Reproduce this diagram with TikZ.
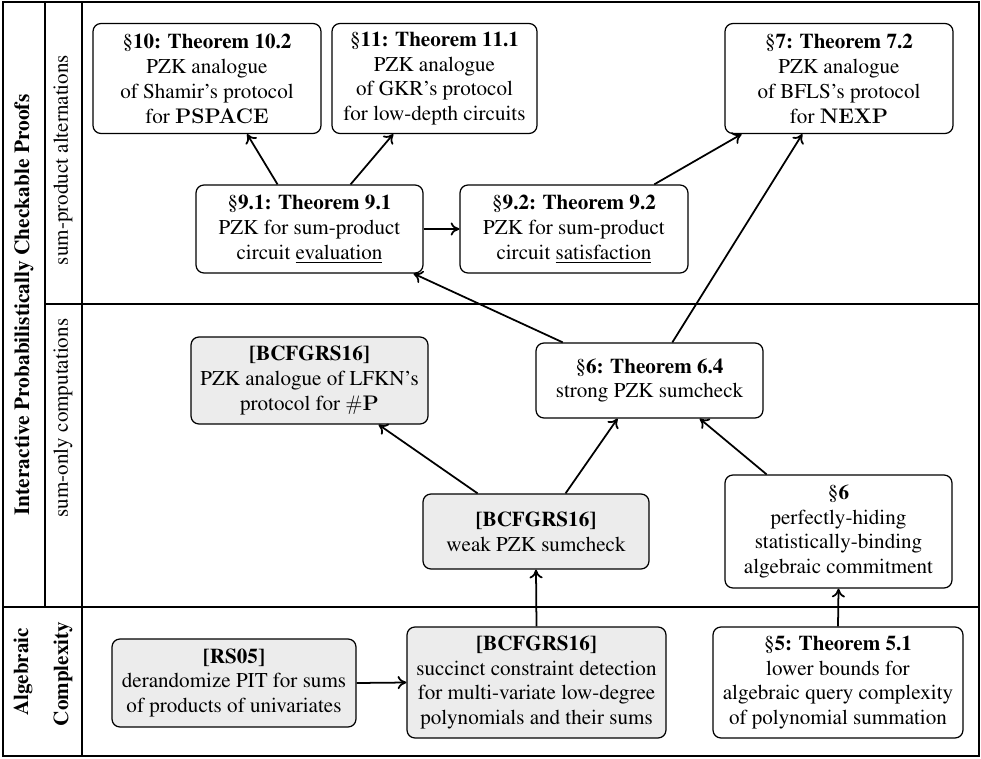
\documentclass[tikz,border=0pt]{standalone}
\usepackage[T1]{fontenc}
\usepackage{times}
\usetikzlibrary{calc,positioning,arrows,arrows.meta}
\tikzstyle{res} = [draw, rounded corners=4.5pt, align=center,
    inner sep=2pt, line width=0.7pt]
\tikzstyle{gres} = [res, fill=gray!15]
\tikzstyle{dep} = [-{To[length=5pt,width=7.5pt]}, line width=1pt]

\begin{document}
\begin{tikzpicture}[x=0.02cm, y=-0.02cm,
    font=\fontsize{12}{14.2}\selectfont]
\useasboundingbox (0,0) rectangle (981,758);

% table lines
\draw[line width=0.8pt] (3,2) rectangle (979,756);
\draw[line width=0.8pt] (45,2) -- (45,607);
\draw[line width=0.8pt] (82,2) -- (82,756);
\draw[line width=0.8pt] (45,304) -- (979,304);
\draw[line width=0.8pt] (3,607) -- (979,607);

\node (ipcp) [rotate=90, font=\fontsize{12.2}{14.2}\selectfont\bfseries] at (24,305) {Interactive Probabilistically Checkable Proofs};
\node (sumprod) [rotate=90] at (63,160) {sum-product alternations};
\node (sumonly) [rotate=90] at (63,418) {sum-only computations};
\node (alg) [rotate=90, font=\fontsize{12}{14.2}\selectfont\bfseries] at (23,672) {Algebraic};
\node (cpx) [rotate=90, font=\fontsize{12}{14.2}\selectfont\bfseries] at (63,674) {Complexity};

% sum-product alternations
\node (b10) [res, minimum width=4.56cm, minimum height=2.2cm] at (207,78.5)
    {\S\textbf{10: Theorem 10.2}\\PZK analogue\\of Shamir's protocol\\for $\mathbf{PSPACE}$};
\node (b11) [res, minimum width=4.1cm, minimum height=2.2cm] at (434.5,78.5)
    {\S\textbf{11: Theorem 11.1}\\PZK analogue\\of GKR's protocol\\for low-depth circuits};
\node (b7) [res, minimum width=4.56cm, minimum height=2.2cm] at (839,78.5)
    {\S\textbf{7: Theorem 7.2}\\PZK analogue\\of BFLS's protocol\\for $\mathbf{NEXP}$};
\node (b91) [res, minimum width=4.54cm, minimum height=1.76cm] at (309.5,229)
    {\S\textbf{9.1: Theorem 9.1}\\PZK for sum-product\\circuit \underline{evaluation}};
\node (b92) [res, minimum width=4.56cm, minimum height=1.76cm] at (574,229)
    {\S\textbf{9.2: Theorem 9.2}\\PZK for sum-product\\circuit \underline{satisfaction}};

% sum-only computations
\node (lfkn) [gres, minimum width=4.74cm, minimum height=1.74cm] at (309.5,380.5)
    {\textbf{[BCFGRS16]}\\PZK analogue of LFKN's\\protocol for $\#\mathbf{P}$};
\node (b6) [res, minimum width=4.54cm, minimum height=1.5cm] at (649.5,380.5)
    {\S\textbf{6: Theorem 6.4}\\strong PZK sumcheck};
\node (weak) [gres, minimum width=4.52cm, minimum height=1.5cm] at (536,531.5)
    {\textbf{[BCFGRS16]}\\weak PZK sumcheck};
\node (commit) [res, minimum width=4.54cm, minimum height=2.26cm] at (838.5,531.5)
    {\S\textbf{6}\\perfectly-hiding\\statistically-binding\\algebraic commitment};

% algebraic complexity
\node (rs05) [gres, minimum width=4.88cm, minimum height=1.76cm] at (234,683)
    {\textbf{[RS05]}\\derandomize PIT for sums\\of products of univariates};
\node (scd) [gres, minimum width=5.18cm, minimum height=2.22cm] at (536.5,682.5)
    {\textbf{[BCFGRS16]}\\succinct constraint detection\\for multi-variate low-degree\\polynomials and their sums};
\node (t51) [res, minimum width=5cm, minimum height=2.22cm] at (838,682.5)
    {\S\textbf{5: Theorem 5.1}\\lower bounds for\\algebraic query complexity\\of polynomial summation};

% dependencies
\draw[dep] (rs05.east) -- (scd.west);
\draw[dep] (scd.north) -- (weak.south);
\draw[dep] (t51.north) -- (commit.south);
\draw[dep] ($(weak.north west)!.243!(weak.north east)$) -- ($(lfkn.south west)!.79!(lfkn.south east)$);
\draw[dep] ($(weak.north west)!.63!(weak.north east)$) -- ($(b6.south west)!.36!(b6.south east)$);
\draw[dep] ($(commit.north west)!.185!(commit.north east)$) -- ($(b6.south west)!.72!(b6.south east)$);
\draw[dep] ($(b6.north west)!.12!(b6.north east)$) -- ($(b91.south west)!.956!(b91.south east)$);
\draw[dep] ($(b6.north west)!.6!(b6.north east)$) -- ($(b7.south west)!.34!(b7.south east)$);
\draw[dep] (b91.east) -- (b92.west);
\draw[dep] ($(b91.north west)!.36!(b91.north east)$) -- ($(b10.south west)!.675!(b10.south east)$);
\draw[dep] ($(b91.north west)!.68!(b91.north east)$) -- ($(b11.south west)!.3!(b11.south east)$);
\draw[dep] ($(b92.north west)!.85!(b92.north east)$) -- ($(b7.south west)!.075!(b7.south east)$);

\end{tikzpicture}
\end{document}
